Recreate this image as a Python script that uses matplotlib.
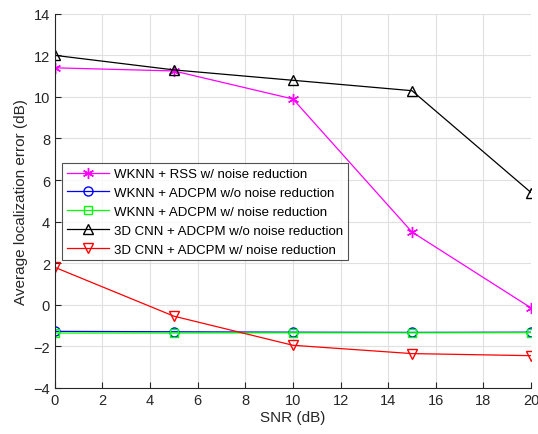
import matplotlib
matplotlib.use('Agg')
import matplotlib.pyplot as plt

plt.rcParams['font.family'] = ['Liberation Sans', 'DejaVu Sans']

# SNR values (dB)
snr = [0, 5, 10, 15, 20]

# Average localization error (dB) per method
wknn_rss_nr = [11.4, 11.25, 9.9, 3.5, -0.15]
wknn_adcpm_wo = [-1.28, -1.3, -1.32, -1.33, -1.32]
wknn_adcpm_w = [-1.36, -1.36, -1.35, -1.35, -1.34]
cnn_adcpm_wo = [12.0, 11.3, 10.8, 10.3, 5.4]
cnn_adcpm_w = [1.8, -0.55, -1.95, -2.35, -2.45]

labels = ['WKNN + RSS w/ noise reduction',
          'WKNN + ADCPM w/o noise reduction',
          'WKNN + ADCPM w/ noise reduction',
          '3D CNN + ADCPM w/o noise reduction',
          '3D CNN + ADCPM w/ noise reduction']

fig = plt.figure(figsize=(5.38, 4.35), dpi=100)
ax = fig.add_axes([0.102, 0.106, 0.885, 0.86])

lw = 0.9
ax.plot(snr, wknn_rss_nr, color='#ff00ff', marker=(6, 2, 0), ms=8, lw=lw, label=labels[0])
ax.plot(snr, wknn_adcpm_wo, color='#0000ff', marker='o', ms=6.5, mfc='none', lw=lw, label=labels[1])
ax.plot(snr, wknn_adcpm_w, color='#00ff00', marker='s', ms=5.5, mfc='none', lw=lw, label=labels[2])
ax.plot(snr, cnn_adcpm_wo, color='black', marker='^', ms=7, mfc='none', lw=lw, label=labels[3])
ax.plot(snr, cnn_adcpm_w, color='#ff0000', marker='v', ms=7, mfc='none', lw=lw, label=labels[4])

ax.set_xlim(0, 20)
ax.set_ylim(-4, 14)
ax.set_xticks(range(0, 21, 2))
ax.set_yticks(range(-4, 15, 2))
ax.grid(True, color='#e0e0e0', lw=0.8)
ax.set_axisbelow(True)
ax.spines['top'].set_visible(False)
ax.spines['right'].set_visible(False)
for s in ['left', 'bottom']:
    ax.spines[s].set_color('#262626')
ax.tick_params(direction='in', labelsize=10.5, colors='#262626', length=4)

ax.set_xlabel('SNR (dB)', fontsize=11, color='#262626', labelpad=2)
ax.set_ylabel('Average localization error (dB)', fontsize=11, color='#262626', labelpad=4)

leg = ax.legend(loc='upper left', bbox_to_anchor=(0.015, 0.6), fontsize=9.5,
                frameon=True, fancybox=False, edgecolor='#262626',
                borderpad=0.35, labelspacing=0.5, handlelength=3.2,
                handletextpad=0.4, borderaxespad=0)
leg.get_frame().set_linewidth(0.8)

fig.savefig('out.png', dpi=100)
